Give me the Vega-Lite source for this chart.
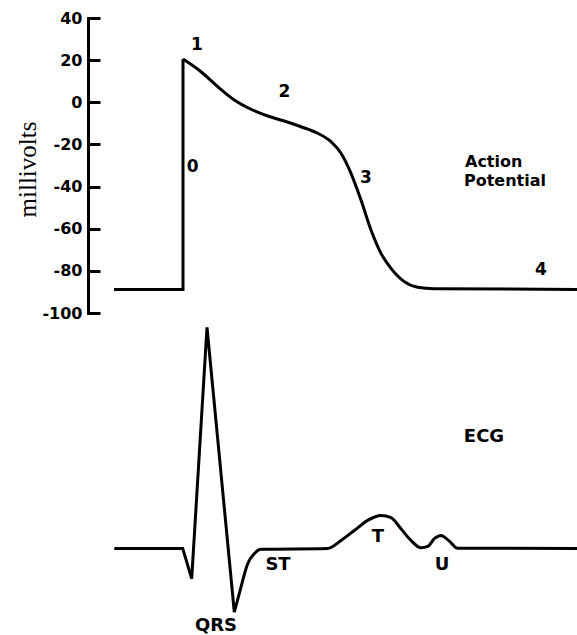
{
  "$schema": "https://vega.github.io/schema/vega-lite/v6.json",
  "padding": {"left": 15, "top": 10, "right": 0, "bottom": 5},
  "background": "#ffffff",
  "bounds": "flush",
  "spacing": 10,
  "config": {"view": {"stroke": null}},
  "datasets": {
    "ap": [
      {"seg": "up", "i": 0, "t": 26, "mV": -88.8},
      {"seg": "up", "i": 1, "t": 95, "mV": -88.8},
      {"seg": "up", "i": 2, "t": 95, "mV": 20.5},
      {"seg": "plateau", "i": 3, "t": 95, "mV": 20.5},
      {"seg": "plateau", "i": 4, "t": 113, "mV": 14.5},
      {"seg": "plateau", "i": 5, "t": 129.7, "mV": 7.4},
      {"seg": "plateau", "i": 6, "t": 146.3, "mV": 1.1},
      {"seg": "plateau", "i": 7, "t": 163, "mV": -3.3},
      {"seg": "plateau", "i": 8, "t": 179.7, "mV": -6.5},
      {"seg": "plateau", "i": 9, "t": 196.3, "mV": -8.9},
      {"seg": "plateau", "i": 10, "t": 213, "mV": -11.6},
      {"seg": "plateau", "i": 11, "t": 229.7, "mV": -14.7},
      {"seg": "plateau", "i": 12, "t": 243, "mV": -18.7},
      {"seg": "plateau", "i": 13, "t": 253, "mV": -24.2},
      {"seg": "plateau", "i": 14, "t": 263, "mV": -33.7},
      {"seg": "plateau", "i": 15, "t": 273, "mV": -46.4},
      {"seg": "plateau", "i": 16, "t": 283, "mV": -60.6},
      {"seg": "plateau", "i": 17, "t": 293, "mV": -71.7},
      {"seg": "plateau", "i": 18, "t": 303, "mV": -78.8},
      {"seg": "plateau", "i": 19, "t": 316.3, "mV": -85.1},
      {"seg": "plateau", "i": 20, "t": 329.7, "mV": -87.8},
      {"seg": "plateau", "i": 21, "t": 346, "mV": -88.5},
      {"seg": "plateau", "i": 22, "t": 490, "mV": -88.8}
    ],
    "apLabels": [
      {"label": "1", "t": 109, "mV": 27.2},
      {"label": "2", "t": 196.3, "mV": 5},
      {"label": "0", "t": 104.7, "mV": -30.6},
      {"label": "3", "t": 278, "mV": -35.9},
      {"label": "4", "t": 453, "mV": -79.6},
      {"label": "Action", "t": 377, "mV": -28.3},
      {"label": "Potential", "t": 376, "mV": -37.4}
    ],
    "ecg": [
      {"seg": "qrs", "i": 0, "t": 26.3, "v": 0},
      {"seg": "qrs", "i": 1, "t": 94.7, "v": 0},
      {"seg": "qrs", "i": 2, "t": 103.7, "v": -0.137},
      {"seg": "qrs", "i": 3, "t": 119, "v": 1.0},
      {"seg": "qrs", "i": 4, "t": 146.3, "v": -0.288},
      {"seg": "qrs", "i": 5, "t": 153, "v": -0.175},
      {"seg": "rest", "i": 6, "t": 153, "v": -0.175},
      {"seg": "rest", "i": 7, "t": 159.7, "v": -0.069},
      {"seg": "rest", "i": 8, "t": 166.3, "v": -0.024},
      {"seg": "rest", "i": 9, "t": 173, "v": -0.004},
      {"seg": "rest", "i": 10, "t": 239.7, "v": 0},
      {"seg": "rest", "i": 11, "t": 253, "v": 0.036},
      {"seg": "rest", "i": 12, "t": 266.3, "v": 0.081},
      {"seg": "rest", "i": 13, "t": 279.7, "v": 0.127},
      {"seg": "rest", "i": 14, "t": 293, "v": 0.149},
      {"seg": "rest", "i": 15, "t": 303, "v": 0.139},
      {"seg": "rest", "i": 16, "t": 313, "v": 0.089},
      {"seg": "rest", "i": 17, "t": 323, "v": 0.036},
      {"seg": "rest", "i": 18, "t": 333, "v": 0.003},
      {"seg": "rest", "i": 19, "t": 339.7, "v": 0.009},
      {"seg": "rest", "i": 20, "t": 346.3, "v": 0.044},
      {"seg": "rest", "i": 21, "t": 353, "v": 0.059},
      {"seg": "rest", "i": 22, "t": 361.3, "v": 0.033},
      {"seg": "rest", "i": 23, "t": 369.7, "v": 0.001},
      {"seg": "rest", "i": 24, "t": 489.7, "v": 0}
    ],
    "ecgLabels": [
      {"label": "ECG", "t": 396, "v": 0.502},
      {"label": "QRS", "t": 128, "v": -0.35},
      {"label": "ST", "t": 190, "v": -0.077},
      {"label": "T", "t": 290, "v": 0.05},
      {"label": "U", "t": 354, "v": -0.077}
    ]
  },
  "vconcat": [
    {
      "width": 490,
      "height": 295,
      "encoding": {
        "x": {"field": "t", "type": "quantitative", "scale": {"domain": [0, 490], "nice": false, "zero": false}, "axis": null},
        "y": {
          "field": "mV", "type": "quantitative",
          "scale": {"domain": [-100, 40], "nice": false, "zero": false},
          "axis": {
            "title": "millivolts",
            "values": [-100, -80, -60, -40, -20, 0, 20, 40],
            "labelExpr": "replace(datum.label, '−', '-')",
            "grid": false,
            "domainColor": "#000", "domainWidth": 3, "domainCap": "square",
            "tickColor": "#000", "tickWidth": 3, "tickSize": -12,
            "labelFont": "DejaVu Sans", "labelFontWeight": "bold", "labelFontSize": 16, "labelColor": "#000",
            "labelPadding": 18, "labelFlush": false, "labelOverlap": false,
            "titleFont": "Liberation Serif", "titleFontWeight": "normal", "titleFontSize": 25, "titleColor": "#000",
            "titleX": -53, "titleY": 151, "titleAngle": -90, "titleBaseline": "alphabetic", "titleAlign": "center"
          }
        }
      },
      "layer": [
        {
          "data": {"name": "ap"},
          "transform": [{"filter": "datum.seg == 'up'"}],
          "mark": {"type": "line", "color": "#000", "strokeWidth": 3, "interpolate": "linear", "strokeJoin": "miter"},
          "encoding": {"order": {"field": "i", "type": "quantitative"}}
        },
        {
          "data": {"name": "ap"},
          "transform": [{"filter": "datum.seg == 'plateau'"}],
          "mark": {"type": "line", "color": "#000", "strokeWidth": 3, "interpolate": "monotone"},
          "encoding": {"order": {"field": "i", "type": "quantitative"}}
        },
        {
          "data": {"name": "apLabels"},
          "transform": [{"filter": "datum.label != 'Action' && datum.label != 'Potential'"}],
          "mark": {"type": "text", "font": "DejaVu Sans", "fontWeight": "bold", "fontSize": 17, "color": "#000", "align": "center", "baseline": "middle"},
          "encoding": {"text": {"field": "label"}}
        },
        {
          "data": {"name": "apLabels"},
          "transform": [{"filter": "datum.label == 'Action' || datum.label == 'Potential'"}],
          "mark": {"type": "text", "font": "DejaVu Sans", "fontWeight": "bold", "fontSize": 16, "color": "#000", "align": "left", "baseline": "middle"},
          "encoding": {"text": {"field": "label"}}
        }
      ]
    },
    {
      "width": 490,
      "height": 305,
      "encoding": {
        "x": {"field": "t", "type": "quantitative", "scale": {"domain": [0, 490], "nice": false, "zero": false}, "axis": null},
        "y": {"field": "v", "type": "quantitative", "scale": {"domain": [-0.36, 1.02], "nice": false, "zero": false}, "axis": null}
      },
      "layer": [
        {
          "data": {"name": "ecg"},
          "transform": [{"filter": "datum.seg == 'qrs'"}],
          "mark": {"type": "line", "color": "#000", "strokeWidth": 3, "interpolate": "linear", "strokeJoin": "miter"},
          "encoding": {"order": {"field": "i", "type": "quantitative"}}
        },
        {
          "data": {"name": "ecg"},
          "transform": [{"filter": "datum.seg == 'rest'"}],
          "mark": {"type": "line", "color": "#000", "strokeWidth": 3, "interpolate": "monotone"},
          "encoding": {"order": {"field": "i", "type": "quantitative"}}
        },
        {
          "data": {"name": "ecgLabels"},
          "mark": {"type": "text", "font": "DejaVu Sans", "fontWeight": "bold", "fontSize": 18, "color": "#000", "align": "center", "baseline": "middle"},
          "encoding": {"text": {"field": "label"}}
        }
      ]
    }
  ]
}
